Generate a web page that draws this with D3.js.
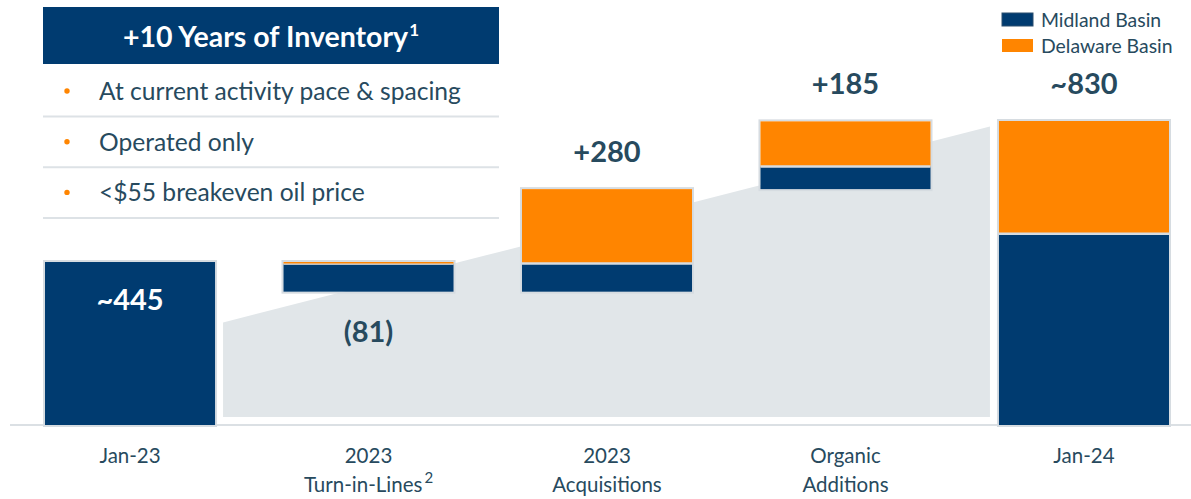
<!DOCTYPE html>
<html>
<head>
<meta charset="utf-8">
<script src="https://cdn.jsdelivr.net/npm/d3@7"></script>
<style>
  html, body { margin: 0; padding: 0; background: #fff; }
  svg { display: block; font-family: Lato, "Open Sans", sans-serif; }
</style>
</head>
<body>
<svg id="chart" width="1191" height="499"></svg>
<script>
// ---------- data ----------
const categories = ["Jan-23", "2023 Turn-in-Lines", "2023 Acquisitions", "Organic Additions", "Jan-24"];
const barKinds   = ["total", "delta", "delta", "delta", "total"];
const midland    = [445, -75, 77, 62, 522];
const delaware   = [0, -6, 203, 123, 308];
const valueLabels = ["~445", "(81)", "+280", "+185", "~830"];
const axisLines  = [["Jan-23"], ["2023", "Turn-in-Lines"], ["2023", "Acquisitions"], ["Organic", "Additions"], ["Jan-24"]];
const axisSup    = ["", "2", "", "", ""];
const seriesNames = ["Midland Basin", "Delaware Basin"];
const bullets = ["At current activity pace & spacing", "Operated only", "<$55 breakeven oil price"];
const titleText = "+10 Years of Inventory";
const titleSup = "1";
// decorative background trend wedge (value units)
const trendStart = 280, trendEnd = 815, trendBase = 22;

// ---------- style ----------
const NAVY = "#003b70", ORANGE = "#ff8500", GREY = "#e1e6e9", EDGE = "#d6dce1", TEXT = "#274a5e";

const svg = d3.select("#chart");

const x = d3.scaleBand().domain(categories).range([45, 1169]).paddingInner(0.287).paddingOuter(0);
const y = d3.scaleLinear().domain([0, 830]).range([425, 121]);
const bw = x.bandwidth();

// build waterfall segments
let running = 0;
const bars = categories.map((c, i) => {
  const m = midland[i], d = delaware[i];
  let lower;
  if (barKinds[i] === "total") { lower = 0; running = m + d; }
  else {
    const delta = m + d;
    lower = delta < 0 ? running + delta : running;
    running += delta;
  }
  const segs = [
    { s: "Midland Basin", y0: lower, y1: lower + Math.abs(m), color: NAVY },
    { s: "Delaware Basin", y0: lower + Math.abs(m), y1: lower + Math.abs(m) + Math.abs(d), color: ORANGE }
  ].filter(s => s.y1 > s.y0);
  return { c, i, lower, upper: lower + Math.abs(m) + Math.abs(d), segs };
});

// background wedge
const gap = 8;
const xl = x(categories[0]) + bw + gap, xr = x(categories[4]) - gap - 1;
svg.append("path")
  .attr("d", d3.line()([[xl, y(trendBase)], [xl, y(trendStart)], [xr, y(trendEnd)], [xr, y(trendBase)]]) + "Z")
  .attr("fill", GREY);

// baseline
svg.append("line").attr("x1", 10).attr("x2", 1191).attr("y1", y(0)).attr("y2", y(0))
  .attr("stroke", "#dbe0e4").attr("stroke-width", 2);

// bars
const g = svg.append("g");
bars.forEach(b => {
  const bx = x(b.c);
  // outer outline, drawn just outside the fill
  g.append("rect")
    .attr("x", bx - 1).attr("width", bw + 2)
    .attr("y", y(b.upper) - 1).attr("height", y(b.lower) - y(b.upper) + 2)
    .attr("fill", "none").attr("stroke", EDGE).attr("stroke-width", 2);
  g.selectAll(null).data(b.segs).enter().append("rect")
    .attr("x", bx)
    .attr("width", bw)
    .attr("y", s => y(s.y1))
    .attr("height", s => y(s.y0) - y(s.y1))
    .attr("fill", s => s.color);
  // separators between stacked segments
  g.selectAll(null).data(b.segs.slice(1)).enter().append("line")
    .attr("x1", bx).attr("x2", bx + bw)
    .attr("y1", s => y(s.y0)).attr("y2", s => y(s.y0))
    .attr("stroke", EDGE).attr("stroke-width", b.i === 1 ? 1.2 : 2.5);
});

// value labels
bars.forEach(b => {
  let ty, fill = TEXT;
  if (b.i === 0) { ty = y(b.upper) + 48; fill = "#fff"; }
  else if (b.i === 1) { ty = y(b.lower) + 50; }
  else { ty = y(b.upper) - 27; }
  svg.append("text").attr("x", x(b.c) + bw / 2).attr("y", ty)
    .attr("text-anchor", "middle").attr("font-weight", 700).attr("font-size", 29)
    .attr("fill", fill).text(valueLabels[b.i]);
});

// x axis labels
categories.forEach((c, i) => {
  const t = svg.append("text").attr("x", x(c) + bw / 2).attr("text-anchor", "middle")
    .attr("font-size", 20.5).attr("fill", TEXT);
  axisLines[i].forEach((ln, k) => {
    t.append("tspan").attr("x", x(c) + bw / 2).attr("y", 463 + k * 29).text(ln);
    if (k === axisLines[i].length - 1 && axisSup[i]) {
      t.append("tspan").attr("dx", 2).attr("dy", -9).attr("font-size", 15).text(axisSup[i]);
    }
  });
});

// title box
svg.append("rect").attr("x", 43).attr("y", 7).attr("width", 456).attr("height", 57).attr("fill", NAVY);
const tt = svg.append("text").attr("x", 271).attr("y", 47).attr("text-anchor", "middle")
  .attr("font-weight", 700).attr("font-size", 28.5).attr("fill", "#fff");
tt.append("tspan").text(titleText);
tt.append("tspan").attr("dx", 1).attr("dy", -11).attr("font-size", 17).text(titleSup);

// bullets
bullets.forEach((b, i) => {
  const base = 100 + i * 50.7;
  svg.append("circle").attr("cx", 67).attr("cy", base - 9).attr("r", 2.7).attr("fill", ORANGE);
  svg.append("text").attr("x", 99).attr("y", base).attr("font-size", 24.6).attr("fill", TEXT).text(b);
  svg.append("line").attr("x1", 43).attr("x2", 499).attr("y1", base + 16.5).attr("y2", base + 16.5)
    .attr("stroke", "#dde2e6").attr("stroke-width", 2);
});

// legend
const colorOf = d3.scaleOrdinal().domain(seriesNames).range([NAVY, ORANGE]);
seriesNames.forEach((s, i) => {
  svg.append("rect").attr("x", 1002).attr("y", 13 + i * 26).attr("width", 31).attr("height", 13)
    .attr("fill", colorOf(s)).attr("stroke", i === 0 ? "#2a4f6e" : "none").attr("stroke-width", 1);
  svg.append("text").attr("x", 1041).attr("y", 26.5 + i * 26).attr("font-size", 19.4).attr("fill", TEXT).text(s);
});
</script>
</body>
</html>
